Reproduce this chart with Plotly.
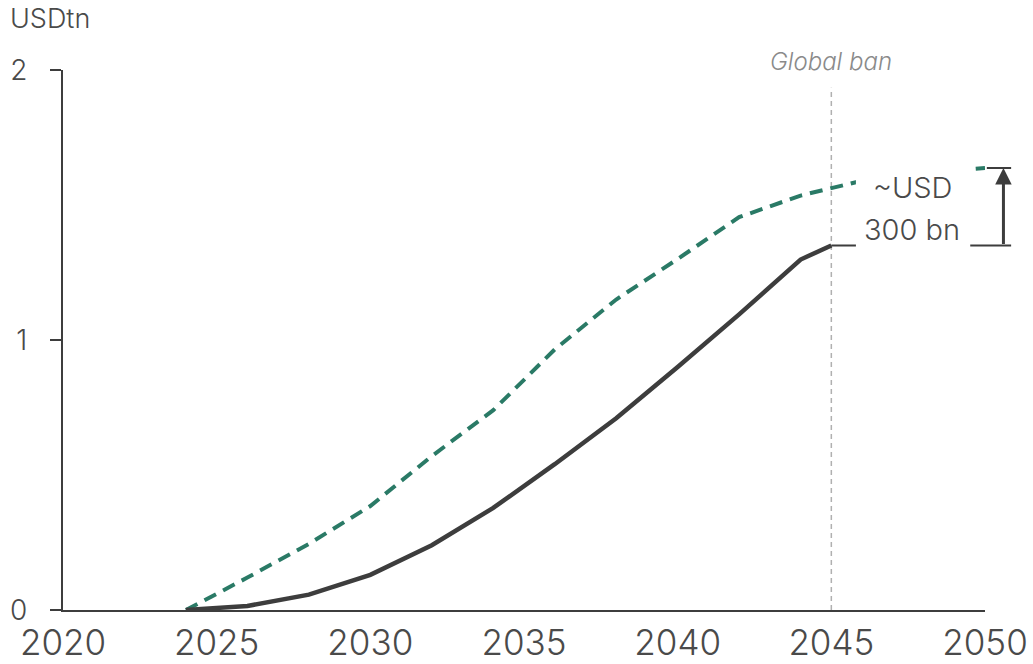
import plotly.graph_objects as go

# ---- data ----
years_base = [2024, 2026, 2028, 2030, 2032, 2034, 2036, 2038, 2040, 2042, 2044, 2045]
values_base = [0.0, 0.015, 0.057, 0.13, 0.24, 0.378, 0.54, 0.71, 0.90, 1.095, 1.298, 1.35]

years_alt = [2024, 2026, 2028, 2030, 2032, 2034, 2036, 2038, 2040, 2042, 2044, 2046, 2048, 2050]
values_alt = [0.0, 0.12, 0.245, 0.385, 0.57, 0.74, 0.965, 1.15, 1.30, 1.455, 1.535, 1.59, 1.62, 1.637]

x_ticks = [2020, 2025, 2030, 2035, 2040, 2045, 2050]
y_ticks = [0, 1, 2]
ban_year = 2045

X_RANGE = [2020, 2050]
Y_RANGE = [0, 2]

GREEN = "#2a7a66"
DARK = "#3d3d3d"
FONT = "Inter"
W = 300

def px_x(year):
    return (year - X_RANGE[0]) / (X_RANGE[1] - X_RANGE[0])

def py_y(v):
    return (v - Y_RANGE[0]) / (Y_RANGE[1] - Y_RANGE[0])

fig = go.Figure()

fig.add_trace(go.Scatter(
    x=years_alt, y=values_alt, mode="lines",
    line=dict(color=GREEN, width=4, dash="13px,8px"),
    showlegend=False, hoverinfo="skip"))
fig.add_trace(go.Scatter(
    x=years_base, y=values_base, mode="lines",
    line=dict(color=DARK, width=4.5),
    showlegend=False, hoverinfo="skip"))

gap_top = values_alt[-1]
gap_bot = values_base[-1]
bracket_right = px_x(2050.85)

shapes = [
    dict(type="line", xref="x", yref="paper", x0=ban_year, x1=ban_year, y0=0, y1=0.967,
         line=dict(color="#b0b0b0", width=1.5, dash="5px,4px"), layer="below"),
    dict(type="line", xref="paper", yref="paper", x0=px_x(years_base[-1]), x1=bracket_right,
         y0=py_y(gap_bot), y1=py_y(gap_bot), line=dict(color=DARK, width=2), layer="above"),
    dict(type="line", xref="paper", yref="paper", x0=px_x(years_alt[-1]) + 0.002, x1=bracket_right,
         y0=py_y(gap_top), y1=py_y(gap_top), line=dict(color=DARK, width=2), layer="above"),
    dict(type="rect", xref="paper", yref="paper", x0=0.86, x1=0.984, y0=0.664, y1=0.851,
         fillcolor="white", line=dict(width=0), layer="above"),
]

annotations = [
    dict(text="USDtn", xref="paper", yref="paper", x=-0.0597, y=1.096, xanchor="left",
         yanchor="middle", showarrow=False, font=dict(family=FONT, size=27, color="#4a4a4a", weight=W)),
    dict(text="<i>Global ban</i>", xref="x", yref="paper", x=ban_year, y=1.015, xanchor="center",
         yanchor="middle", showarrow=False, font=dict(family=FONT, size=24, color="#8a8a8a", weight=W)),
    dict(text="~USD", xref="paper", yref="paper", x=0.921, y=py_y(1.565), xanchor="center",
         yanchor="middle", showarrow=False, font=dict(family=FONT, size=29, color="#4a4a4a", weight=W)),
    dict(text="300 bn", xref="paper", yref="paper", x=0.921, y=py_y(1.41), xanchor="center",
         yanchor="middle", showarrow=False, font=dict(family=FONT, size=29, color="#4a4a4a", weight=W)),
    dict(text="", xref="paper", yref="y", x=px_x(2050.6), y=gap_top,
         axref="pixel", ayref="y", ax=0, ay=gap_bot, showarrow=True,
         arrowhead=2, arrowsize=1.1, arrowwidth=3, arrowcolor=DARK, standoff=0, startstandoff=0),
]

fig.update_layout(
    width=1033, height=664,
    margin=dict(l=63, r=48, t=70, b=54),
    paper_bgcolor="white", plot_bgcolor="white",
    font=dict(family=FONT, color="#4a4a4a", weight=W),
    shapes=shapes, annotations=annotations,
    xaxis=dict(range=X_RANGE, tickvals=x_ticks, ticktext=[str(t) for t in x_ticks],
               showgrid=False, zeroline=False, showline=True, linecolor=DARK, linewidth=2,
               ticks="", tickfont=dict(family=FONT, size=35, color="#4a4a4a", weight=W),
               ticklabelstandoff=1, automargin=False),
    yaxis=dict(range=Y_RANGE, tickvals=y_ticks, ticktext=[str(t) for t in y_ticks],
               showgrid=False, zeroline=False, showline=True, linecolor=DARK, linewidth=2,
               ticks="outside", ticklen=11, tickwidth=2, tickcolor=DARK,
               tickfont=dict(family=FONT, size=28, color="#4a4a4a", weight=W),
               ticklabelstandoff=17, automargin=False),
)

fig.write_html("out.html")
